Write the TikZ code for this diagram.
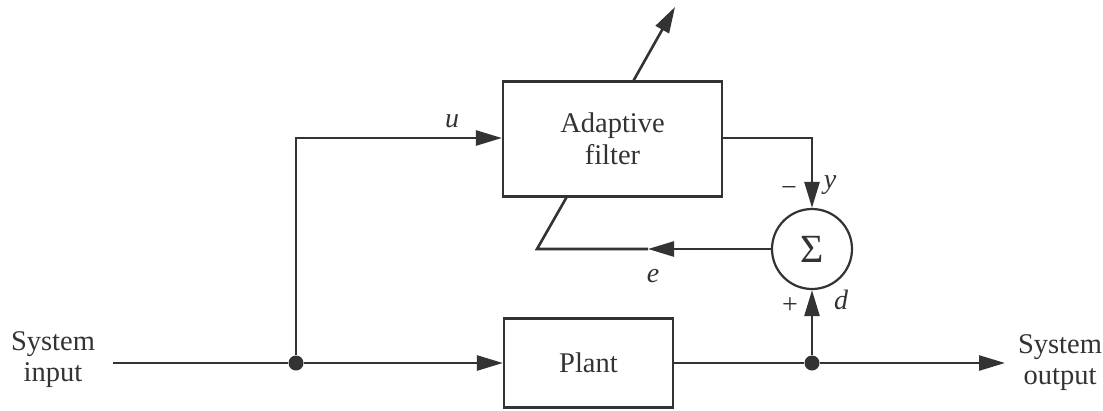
\documentclass[tikz,border=0pt]{standalone}
\usepackage{fontspec}
\setmainfont{Liberation Serif}
\usetikzlibrary{arrows.meta}
\definecolor{ink}{HTML}{333333}
\begin{document}
\begin{tikzpicture}[x=1pt,y=-1pt,
  wire/.style={draw=ink, line width=2.6pt},
  arr/.style={wire, -{Triangle[length=26pt,width=15pt]}},
  blk/.style={draw=ink, line width=2.2pt, rectangle, inner sep=0pt, text=ink, align=center, font=\fontsize{28.5}{32}\selectfont},
  jdot/.style={circle, fill=ink, inner sep=0pt, minimum size=15pt},
  lbl/.style={text=ink, font=\fontsize{28}{30}\selectfont\itshape},
  sgn/.style={text=ink, font=\fontsize{28}{28}\selectfont},
  txt/.style={text=ink, align=center, font=\fontsize{28.5}{31}\selectfont}]
\useasboundingbox (0,0) rectangle (1103,410);
% blocks
\node[blk, minimum width=219pt, minimum height=115pt] (af) at (612.5,139) {Adaptive\\filter};
\node[blk, minimum width=169pt, minimum height=89pt] (pl) at (588.5,363) {Plant};
\node[circle, draw=ink, line width=2.2pt, minimum size=80pt, inner sep=0pt, text=ink, font=\fontsize{40}{40}\selectfont] (sig) at (812,249) {Σ};
% junctions and corners
\node[jdot] (d1) at (296,363) {};
\node[jdot] (d2) at (812,363) {};
\coordinate (inL) at (113,363);
\coordinate (outR) at (1005,363);
\coordinate (uc) at (296,138);
\coordinate (yc) at (812,138);
\coordinate (em) at (648,249);
\coordinate (ec) at (537,249);
\coordinate (ed) at (567,196.5);
\coordinate (at0) at (633,81.5);
\coordinate (at1) at (675,7);
% connectors
\draw[wire] (inL) -- (d1);
\draw[arr] (d1) -- (pl.west);
\draw[arr] (d1) |- (af.west |- uc);
\draw[wire] (pl.east) -- (d2);
\draw[arr] (d2) -- (outR);
\draw[arr] (d2) -- (sig.south);
\draw[arr] (af.east |- yc) -| (sig.north);
\draw[arr] (sig.west) -- (em);
\draw[wire] (em) -- (ec) -- (ed);
\draw[arr] (at0) -- (at1);
% labels
\node[lbl] (lu) at (452,121) {u};
\node[lbl] (ly) at (830,185) {y};
\node[lbl] (le) at (653,276) {e};
\node[lbl] (ld) at (841,300) {d};
\node[sgn] (lm) at (789,191) {−};
\node[sgn] (lp) at (790,306) {+};
\node[txt] (sin) at (53,360) {System\\input};
\node[txt] (sout) at (1060,363) {System\\output};
\end{tikzpicture}
\end{document}
